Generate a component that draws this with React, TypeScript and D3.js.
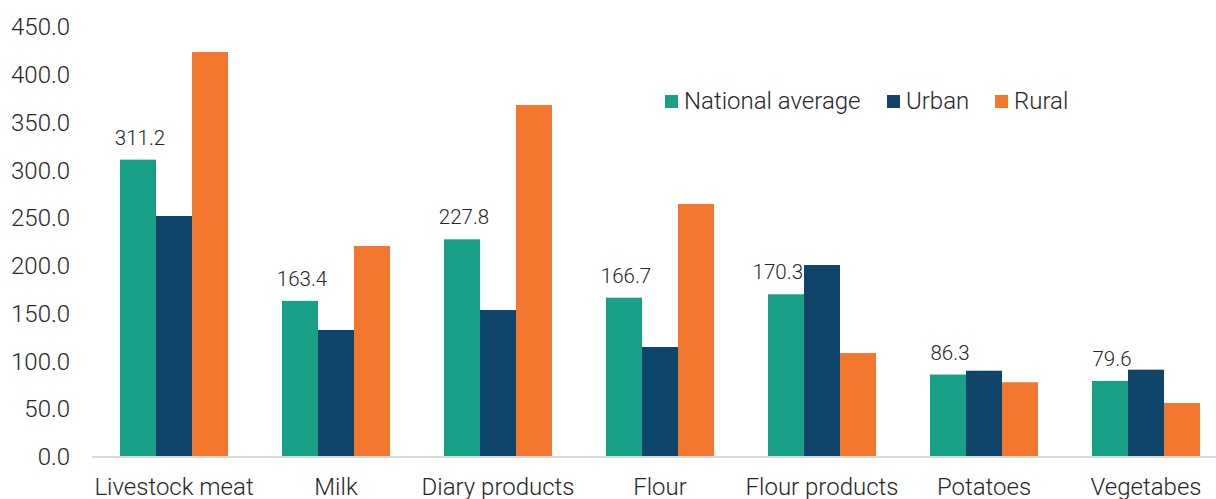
import React, { useRef, useEffect } from "react";
import * as d3 from "d3";

const categories = [
  "Livestock meat",
  "Milk",
  "Diary products",
  "Flour",
  "Flour products",
  "Potatoes",
  "Vegetabes",
];
const seriesNames = ["National average", "Urban", "Rural"];
const nationalAverage = [311.2, 163.4, 227.8, 166.7, 170.3, 86.3, 79.6];
const urban = [252.2, 132.9, 153.8, 115.1, 200.9, 90.3, 91.4];
const rural = [423.8, 220.8, 368.4, 264.8, 108.8, 78.2, 56.5];
const yTicks = [0, 50, 100, 150, 200, 250, 300, 350, 400, 450];

const colors = ["#17a086", "#0f446b", "#f3762e"];

const App = () => {
  const ref = useRef<SVGSVGElement>(null);

  useEffect(() => {
    document.body.style.margin = "0";
    const width = 1216;
    const height = 499;
    const svg = d3.select(ref.current);
    svg.selectAll("*").remove();

    const font = "Roboto, 'Noto Sans', sans-serif";
    const textColor = "#262626";

    const x = d3
      .scaleBand<string>()
      .domain(categories)
      .range([93, 1227])
      .paddingInner(1 / 3)
      .paddingOuter(1 / 6);

    const xs = d3
      .scaleBand<string>()
      .domain(seriesNames)
      .range([0, x.bandwidth()]);

    const y = d3.scaleLinear().domain([0, 450]).range([457, 27]);

    // y tick labels, no axis line
    const yAxis = d3
      .axisLeft(y)
      .tickValues(yTicks)
      .tickFormat(d3.format(".1f"))
      .tickSize(0)
      .tickPadding(0);

    svg
      .append("g")
      .attr("transform", "translate(70,0)")
      .call(yAxis)
      .call((g) => g.select(".domain").remove())
      .call((g) =>
        g
          .selectAll("text")
          .attr("font-family", font)
          .attr("font-weight", 300)
          .attr("font-size", 24)
          .attr("fill", textColor)
      );

    const rows = categories.map((c, i) => ({
      cat: c,
      values: [nationalAverage[i], urban[i], rural[i]],
    }));

    const groups = svg
      .selectAll("g.grp")
      .data(rows)
      .join("g")
      .attr("class", "grp")
      .attr("transform", (d) => `translate(${x(d.cat)},0)`);

    // labels on national average bars (pushed left when the urban bar would hit them)
    const labelGap = 15;
    const blocked = (d) => y(d.values[1]) < y(d.values[0]) - labelGap;
    groups
      .append("text")
      .attr("x", (d) =>
        blocked(d)
          ? xs(seriesNames[1])! - 1
          : xs(seriesNames[0])! + xs.bandwidth() / 2 + 2
      )
      .attr("y", (d) => y(d.values[0]) - labelGap)
      .attr("text-anchor", (d) => (blocked(d) ? "end" : "middle"))
      .attr("font-family", font)
      .attr("font-weight", 300)
      .attr("font-size", 20.5)
      .attr("fill", textColor)
      .text((d) => d3.format(".1f")(d.values[0]));

    // bars
    groups
      .selectAll("rect")
      .data((d) => d.values.map((v, k) => ({ v, k })))
      .join("rect")
      .attr("x", (d) => xs(seriesNames[d.k])!)
      .attr("width", xs.bandwidth())
      .attr("y", (d) => y(d.v))
      .attr("height", (d) => y(0) - y(d.v))
      .attr("fill", (d) => colors[d.k]);

    // baseline
    svg
      .append("line")
      .attr("x1", 92)
      .attr("x2", width)
      .attr("y1", y(0))
      .attr("y2", y(0))
      .attr("stroke", "#d9d9d9")
      .attr("stroke-width", 2);

    // category labels
    const xAxis = d3.axisBottom(x).tickSize(0).tickPadding(0);
    svg
      .append("g")
      .attr("transform", `translate(0,${y(0)})`)
      .call(xAxis)
      .call((g) => g.select(".domain").remove())
      .call((g) =>
        g
          .selectAll("text")
          .attr("dy", null)
          .attr("y", 38)
          .attr("font-family", font)
          .attr("font-weight", 300)
          .attr("font-size", 24)
          .attr("fill", textColor)
      );

    // legend
    const legendX = [665, 887, 995];
    const legend = svg
      .append("g")
      .selectAll("g")
      .data(seriesNames)
      .join("g")
      .attr("transform", (d, i) => `translate(${legendX[i]},95)`);
    legend
      .append("rect")
      .attr("width", 13)
      .attr("height", 13)
      .attr("fill", (d, i) => colors[i]);
    legend
      .append("text")
      .attr("x", 19)
      .attr("y", 14)
      .attr("font-family", font)
      .attr("font-weight", 300)
      .attr("font-size", 24)
      .attr("fill", textColor)
      .text((d) => d);

    svg.attr("width", width).attr("height", height);
  }, []);

  return (
    <svg
      ref={ref}
      width={1216}
      height={499}
      style={{ display: "block", background: "#fff" }}
    />
  );
};

export default App;
